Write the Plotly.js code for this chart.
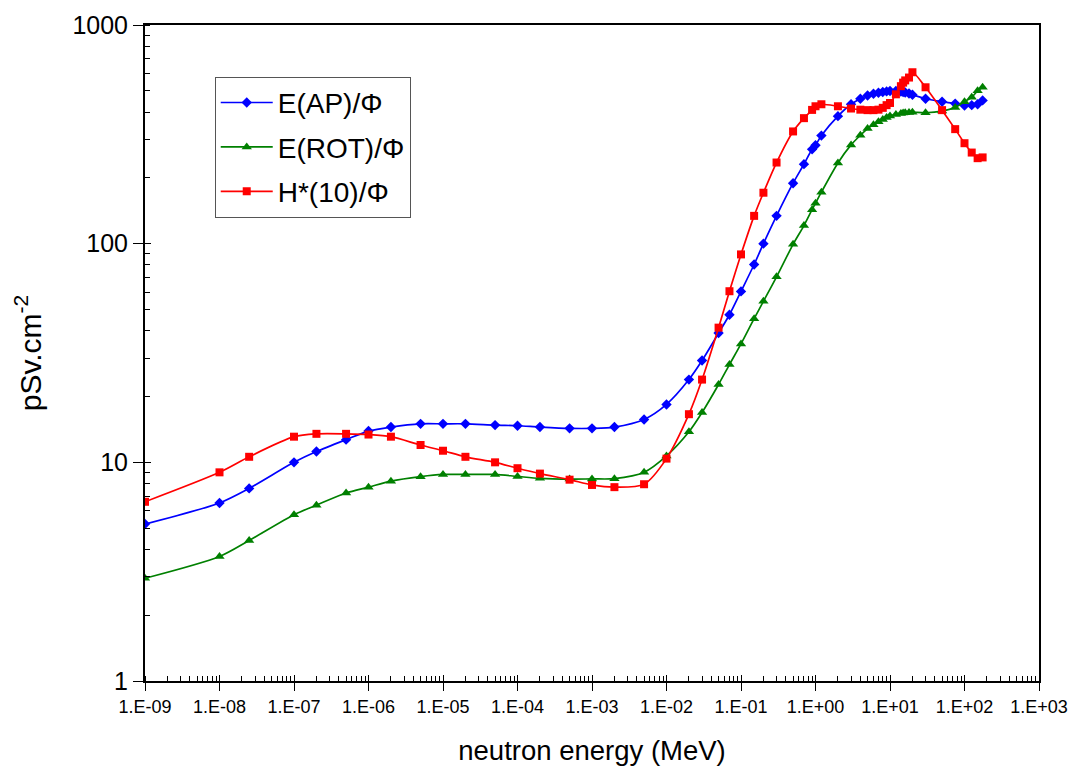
<!DOCTYPE html>
<html>
<head>
<meta charset="utf-8">
<script src="https://cdn.plot.ly/plotly-3.0.1.min.js"></script>
<style>
  html, body { margin: 0; padding: 0; background: #ffffff; }
  #chart { width: 1074px; height: 775px; }
</style>
</head>
<body>
<div id="chart"></div>
<script>
// Neutron energy grid (MeV)
const energy = [
  1e-9, 1e-8, 2.5e-8, 1e-7, 2e-7, 5e-7, 1e-6, 2e-6, 5e-6, 1e-5,
  2e-5, 5e-5, 1e-4, 2e-4, 5e-4, 1e-3, 2e-3, 5e-3, 1e-2, 2e-2,
  3e-2, 5e-2, 7e-2, 0.1, 0.15, 0.2, 0.3, 0.5, 0.7, 0.9,
  1, 1.2, 2, 3, 4, 5, 6, 7, 8, 9,
  10, 12, 14, 15, 16, 18, 20, 30, 50, 75,
  100, 125, 150, 175
];

// Fluence-to-dose conversion coefficients (pSv.cm2)
const eAP = [
  5.22, 6.52, 7.6, 10.0, 11.2, 12.7, 13.9, 14.5, 15.0, 15.0,
  15.0, 14.8, 14.7, 14.5, 14.3, 14.3, 14.5, 15.7, 18.4, 23.9,
  29.2, 39.0, 47.3, 60.5, 80.3, 100, 134, 189, 231, 270,
  282, 312, 383, 434, 460, 476, 485, 490, 494, 497,
  499, 499, 496, 494, 491, 486, 480, 460, 446, 437,
  428, 430, 434, 452
];
const eROT = [
  2.95, 3.71, 4.39, 5.76, 6.37, 7.24, 7.7, 8.2, 8.6, 8.8,
  8.8, 8.8, 8.62, 8.45, 8.38, 8.4, 8.42, 9.0, 10.7, 13.8,
  16.9, 22.7, 28.0, 34.8, 45.4, 54.5, 70.5, 99.3, 121, 143,
  153, 172, 234, 283, 313, 336, 350, 361, 370, 378,
  384, 390, 394, 396, 397, 398, 399, 397, 404, 420,
  446, 467, 500, 519
];
const hStar10 = [
  6.6, 9.0, 10.6, 13.1, 13.5, 13.5, 13.4, 13.1, 12.0, 11.3,
  10.6, 10.0, 9.4, 8.88, 8.33, 7.88, 7.7, 7.94, 10.4, 16.6,
  23.9, 41.3, 60.6, 89.3, 134, 171, 235, 326, 375, 409,
  425, 434, 425, 415, 410, 408, 408, 410, 418, 430,
  440, 482, 525, 545, 558, 575, 608, 519, 408, 334,
  288, 261, 246, 248
];

const seriesNames = ['E(AP)/Φ', 'E(ROT)/Φ', 'H*(10)/Φ'];

// Axis tick labels
const xTickVals = [1e-9, 1e-8, 1e-7, 1e-6, 1e-5, 1e-4, 1e-3, 1e-2, 1e-1, 1e0, 1e1, 1e2, 1e3];
const xTickText = ['1.E-09', '1.E-08', '1.E-07', '1.E-06', '1.E-05', '1.E-04', '1.E-03',
                   '1.E-02', '1.E-01', '1.E+00', '1.E+01', '1.E+02', '1.E+03'];
const yTickVals = [1, 10, 100, 1000];
const yTickText = ['1', '10', '100', '1000'];

function series(y, name, color, symbol, size, group) {
  return {
    x: energy, y: y, name: name, type: 'scatter', mode: 'lines+markers',
    line: { color: color, width: 1.7, shape: 'spline', smoothing: 0.8 },
    marker: { color: color, symbol: symbol, size: size },
    legendgroup: group
  };
}

const traces = [
  series(eAP, seriesNames[0], '#0000ff', 'diamond', 8, 'a'),
  series(eROT, seriesNames[1], '#008000', 'triangle-up', 9, 'b'),
  series(hStar10, seriesNames[2], '#ff0000', 'square', 8, 'c'),
  // carrier for the overlay axes that draw the inner half of the major ticks
  { x: [], y: [], xaxis: 'x2', yaxis: 'y2', type: 'scatter', mode: 'markers', showlegend: false, hoverinfo: 'skip' }
];

const FONT = 'Liberation Sans, Arial, sans-serif';

const layout = {
  width: 1074, height: 775,
  paper_bgcolor: '#ffffff', plot_bgcolor: '#ffffff',
  margin: { l: 145, r: 35, t: 25, b: 94 },
  font: { family: FONT, color: '#000000' },
  showlegend: true,
  legend: {
    x: 0.078, y: 0.921, xanchor: 'left', yanchor: 'top',
    bgcolor: '#ffffff', bordercolor: '#555555', borderwidth: 1,
    font: { family: FONT, size: 28, color: '#000000' },
    itemwidth: 52,
    traceorder: 'grouped', tracegroupgap: 5
  },
  xaxis: {
    type: 'log', range: [-9, 3],
    showline: true, linecolor: '#000000', linewidth: 2, mirror: true,
    showgrid: false, zeroline: false,
    tickmode: 'array', tickvals: xTickVals, ticktext: xTickText,
    ticks: 'outside', ticklen: 8, tickwidth: 1, tickcolor: '#000000',
    tickfont: { family: FONT, size: 18, color: '#000000' },
    minor: { ticks: 'inside', ticklen: 5, tickwidth: 1, tickcolor: '#000000', dtick: 'D1', showgrid: false },
    title: { text: 'neutron energy (MeV)', font: { family: FONT, size: 27.5, color: '#000000' }, standoff: 25 }
  },
  yaxis: {
    type: 'log', range: [0, 3],
    showline: true, linecolor: '#000000', linewidth: 2, mirror: true,
    showgrid: false, zeroline: false,
    tickmode: 'array', tickvals: yTickVals, ticktext: yTickText,
    ticks: 'outside', ticklen: 10, tickwidth: 1, tickcolor: '#000000',
    tickfont: { family: FONT, size: 25, color: '#000000' },
    minor: { ticks: 'inside', ticklen: 5, tickwidth: 1, tickcolor: '#000000', dtick: 'D1', showgrid: false },
    title: { text: 'pSv.cm<sup>-2</sup>', font: { family: FONT, size: 30, color: '#000000' }, standoff: 22 }
  },
  xaxis2: {
    type: 'log', range: [-9, 3], overlaying: 'x', anchor: 'y2', side: 'bottom',
    showline: false, showgrid: false, zeroline: false, showticklabels: false,
    tickmode: 'array', tickvals: xTickVals,
    ticks: 'inside', ticklen: 6, tickwidth: 1, tickcolor: '#000000'
  },
  yaxis2: {
    type: 'log', range: [0, 3], overlaying: 'y', anchor: 'x2', side: 'left',
    showline: false, showgrid: false, zeroline: false, showticklabels: false,
    tickmode: 'array', tickvals: yTickVals,
    ticks: 'inside', ticklen: 6, tickwidth: 1, tickcolor: '#000000'
  }
};

Plotly.newPlot('chart', traces, layout, { displayModeBar: false, staticPlot: true });
</script>
</body>
</html>
